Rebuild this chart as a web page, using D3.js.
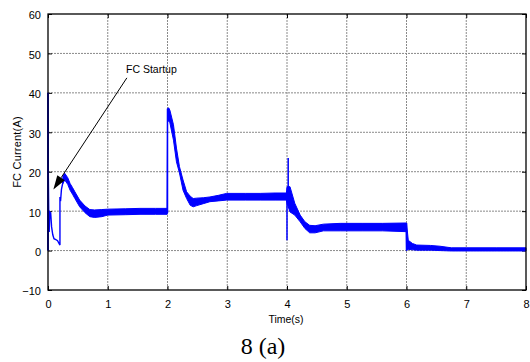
<!DOCTYPE html>
<html>
<head>
<meta charset="utf-8">
<script src="https://cdn.jsdelivr.net/npm/d3@7"></script>
<style>
  body { margin: 0; background: #fff; }
  text { font-family: "Liberation Sans", Arial, sans-serif; }
</style>
</head>
<body>
<div id="chart"></div>
<script>
var width = 530;
var height = 362;
var margin = {top: 14, right: 4, bottom: 72, left: 48};

// tick values
var xTicks = [0, 1, 2, 3, 4, 5, 6, 7, 8];
var yTicks = [-10, 0, 10, 20, 30, 40, 50, 60];

// thin trace at start-up (t, value)
var startT = [0, 0, 0.005, 0.012, 0.02, 0.03, 0.045, 0.06, 0.08, 0.1, 0.13, 0.16, 0.2, 0.2, 0.21, 0.225, 0.245, 0.26];
var startV = [0, 40, 20, 10, 4.7, 9.8, 9.5, 6, 4, 3, 2.8, 2.5, 1.4, 13.6, 12.5, 15.5, 17, 18.5];

// noisy band: time, lower and upper envelope
var bandT  = [0.25, 0.28, 0.33, 0.37, 0.41, 0.45, 0.53, 0.62, 0.7, 0.78, 0.9, 1.0, 1.3, 1.54, 1.8, 1.995,
              2.0, 2.02, 2.04, 2.1, 2.15, 2.2, 2.26, 2.32, 2.38, 2.43, 2.49, 2.6, 2.71, 2.85, 2.99, 3.3, 3.55, 3.8, 3.99,
              4.0, 4.05, 4.13, 4.22, 4.3, 4.38, 4.47, 4.61, 4.89, 5.27, 5.6, 5.995,
              6.0, 6.03, 6.1, 6.17, 6.4, 6.56, 6.75, 7.0, 7.5, 8.0];
var bandLo = [17, 17.9, 16.8, 15.3, 14.3, 13.2, 11.1, 9.6, 8.6, 8.4, 8.6, 9.0, 9.1, 9.2, 9.2, 9.2,
              32.5, 33, 32.4, 28, 22.5, 19.7, 15.3, 13.2, 11.5, 11.1, 11.4, 11.9, 12.4, 12.6, 12.8, 12.8, 12.8, 12.8, 12.8,
              12, 9.8, 9, 7.3, 5.6, 4.5, 4.5, 5.0, 5.0, 5.0, 5.0, 4.8,
              0, 0.3, 0.2, 0.1, 0.1, 0.0, -0.1, -0.1, -0.1, -0.1];
var bandHi = [19, 19.6, 18.5, 17, 16, 14.9, 12.8, 11.3, 10.4, 10.3, 10.4, 10.5, 10.6, 10.7, 10.7, 10.7,
              36, 36.2, 35.6, 31.9, 26, 21.3, 17.9, 14.9, 13.8, 13.2, 13.3, 13.4, 13.6, 14.0, 14.5, 14.5, 14.5, 14.6, 14.6,
              16.2, 16.2, 12, 9, 7.3, 6.4, 6.3, 6.7, 6.9, 6.9, 6.9, 7.0,
              7.0, 2.6, 1.8, 1.4, 1.3, 1.1, 0.7, 0.7, 0.7, 0.7];

// vertical jumps: time, from, to
var jumpT    = [0, 2, 4.0, 4.02, 6];
var jumpFrom = [0, 9.5, 2.6, 12, 0];
var jumpTo   = [40, 36, 14, 23.5, 7];

// annotation
var noteText = "FC Startup";
var noteAt = [1.305, 45];
var arrowFrom = [1.32, 43.8];
var arrowTo = [0.09, 15.5];

var svg = d3.select('#chart').append('svg')
  .attr("width", width)
  .attr("height", height);

svg.append("rect").attr("width", width).attr("height", height).attr("fill", "#fff");

var x = d3.scaleLinear().domain([0, 8]).range([margin.left, width - margin.right]);
var y = d3.scaleLinear().domain([-10, 60]).range([height - margin.bottom, margin.top]);

// grid
svg.append("g").selectAll("line")
  .data(xTicks.slice(1, -1))
  .enter().append("line")
  .attr("x1", d => x(d)).attr("x2", d => x(d))
  .attr("y1", y(60)).attr("y2", y(-10))
  .attr("stroke", "#8a8a8a").attr("stroke-dasharray", "2,1");
svg.append("g").selectAll("line")
  .data(yTicks.slice(1, -1))
  .enter().append("line")
  .attr("x1", x(0)).attr("x2", x(8))
  .attr("y1", d => y(d)).attr("y2", d => y(d))
  .attr("stroke", "#8a8a8a").attr("stroke-dasharray", "2,1");

// axes with inward ticks
var fs = "11px";
svg.append("g")
  .attr("transform", "translate(0," + y(-10) + ")")
  .call(d3.axisBottom(x).tickValues(xTicks).tickSize(-4).tickPadding(10).tickFormat(d3.format("d")))
  .call(g => g.select(".domain").remove())
  .call(g => g.selectAll("text").attr("font-size", fs).attr("fill", "#000").attr("font-family", "Liberation Sans, Arial"));
svg.append("g")
  .attr("transform", "translate(0," + y(60) + ")")
  .call(d3.axisTop(x).tickValues(xTicks).tickSize(-4).tickFormat(""))
  .call(g => g.select(".domain").remove());
svg.append("g")
  .attr("transform", "translate(" + x(0) + ",0)")
  .call(d3.axisLeft(y).tickValues(yTicks).tickSize(-4).tickPadding(7).tickFormat(d3.format("d")))
  .call(g => g.select(".domain").remove())
  .call(g => g.selectAll("text").attr("font-size", fs).attr("fill", "#000").attr("dy", "0.45em").attr("font-family", "Liberation Sans, Arial"));
svg.append("g")
  .attr("transform", "translate(" + x(8) + ",0)")
  .call(d3.axisRight(y).tickValues(yTicks).tickSize(-4).tickFormat(""))
  .call(g => g.select(".domain").remove());

// band
var bandData = bandT.map((t, i) => ({t: t, lo: bandLo[i], hi: bandHi[i]}));
var area = d3.area()
  .x(d => x(d.t))
  .y0(d => y(d.lo))
  .y1(d => y(d.hi));
svg.append("path")
  .datum(bandData)
  .attr("d", area)
  .attr("fill", "#0000ff")
  .attr("stroke", "#0000ff")
  .attr("stroke-width", 1);

// start-up trace
var startData = startT.map((t, i) => ({t: t, v: startV[i]}));
svg.append("path")
  .datum(startData)
  .attr("d", d3.line().x(d => x(d.t)).y(d => y(d.v)))
  .attr("fill", "none")
  .attr("stroke", "#0000ff")
  .attr("stroke-width", 1.4);

// jumps
svg.append("g").selectAll("line")
  .data(jumpT)
  .enter().append("line")
  .attr("x1", d => x(d)).attr("x2", d => x(d))
  .attr("y1", (d, i) => y(jumpFrom[i])).attr("y2", (d, i) => y(jumpTo[i]))
  .attr("stroke", "#0000ff").attr("stroke-width", 1.5);

// frame
svg.append("rect")
  .attr("x", x(0)).attr("y", y(60))
  .attr("width", x(8) - x(0)).attr("height", y(-10) - y(60))
  .attr("fill", "none").attr("stroke", "#000").attr("stroke-width", 1.3);

// annotation arrow
var ax0 = x(arrowFrom[0]), ay0 = y(arrowFrom[1]);
var ax1 = x(arrowTo[0]), ay1 = y(arrowTo[1]);
var ang = Math.atan2(ay1 - ay0, ax1 - ax0);
var hl = 14, hw = 4.5;
var bx = ax1 - hl * Math.cos(ang), by = ay1 - hl * Math.sin(ang);
svg.append("line")
  .attr("x1", ax0).attr("y1", ay0).attr("x2", bx).attr("y2", by)
  .attr("stroke", "#000").attr("stroke-width", 1);
svg.append("path")
  .attr("d", "M" + ax1 + "," + ay1 +
    "L" + (bx + hw * Math.sin(ang)) + "," + (by - hw * Math.cos(ang)) +
    "L" + (bx - hw * Math.sin(ang)) + "," + (by + hw * Math.cos(ang)) + "Z")
  .attr("fill", "#000");
svg.append("text")
  .attr("x", x(noteAt[0])).attr("y", y(noteAt[1]))
  .attr("font-size", "10.5px")
  .text(noteText);

// labels
svg.append("text")
  .attr("x", (x(0) + x(8)) / 2 - 1).attr("y", 323)
  .attr("text-anchor", "middle")
  .attr("font-size", "10.5px")
  .text("Time(s)");
svg.append("text")
  .attr("transform", "translate(21," + ((y(60) + y(-10)) / 2) + ") rotate(-90)")
  .attr("text-anchor", "middle")
  .attr("font-size", "11px")
  .attr("letter-spacing", "0.2px")
  .text("FC Current(A)");
svg.append("text")
  .attr("x", 263).attr("y", 353.5)
  .attr("text-anchor", "middle")
  .attr("font-size", "24px")
  .style("font-family", "'Liberation Serif', 'Times New Roman', serif")
  .text("8 (a)");
</script>
</body>
</html>
